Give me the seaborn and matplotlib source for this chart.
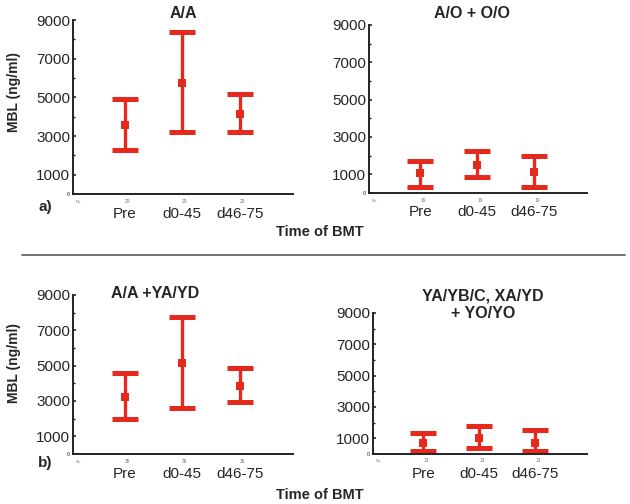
import numpy as np
import pandas as pd
import matplotlib
matplotlib.use("Agg")
import matplotlib.pyplot as plt
import seaborn as sns
from matplotlib.lines import Line2D

sns.set_style("ticks")
plt.rcParams["font.family"] = ["Liberation Sans", "DejaVu Sans"]

# Data
times = ["Pre", "d0-45", "d46-75"]

aa_mean = [3570, 5730, 4120]
aa_low = [2290, 3220, 3220]
aa_high = [4930, 8360, 5160]

ao_mean = [1050, 1500, 1110]
ao_low = [340, 840, 300]
ao_high = [1730, 2270, 2000]

aay_mean = [3210, 5170, 3870]
aay_low = [1960, 2590, 2920]
aay_high = [4570, 7770, 4880]

ya_mean = [710, 1030, 710]
ya_low = [170, 380, 170]
ya_high = [1340, 1760, 1530]

counts = ["29", "19", "35", "13"]

red = "#e5291c"

fig = plt.figure(figsize=(6.3, 5.04), dpi=100)
W, H = 630, 504


def px_axes(x0, y0, x1, y1):
    return fig.add_axes([x0 / W, 1 - y1 / H, (x1 - x0) / W, (y1 - y0) / H])


ax_a = px_axes(73, 20, 293, 194)
ax_b = px_axes(369, 25, 587, 193)
ax_c = px_axes(73, 295, 293, 454)
ax_d = px_axes(373, 313, 587, 454)

panels = [
    (ax_a, aa_mean, aa_low, aa_high, counts[0]),
    (ax_b, ao_mean, ao_low, ao_high, counts[1]),
    (ax_c, aay_mean, aay_low, aay_high, counts[2]),
    (ax_d, ya_mean, ya_low, ya_high, counts[3]),
]

for ax, mean, low, high, n in panels:
    df = pd.DataFrame({"time": times, "mean": mean, "low": low, "high": high})
    sns.scatterplot(data=df, x="time", y="mean", marker="s", s=26,
                    color=red, edgecolor=red, linewidth=0, ax=ax, zorder=3)
    xs = np.arange(len(times))
    yerr = [df["mean"] - df["low"], df["high"] - df["mean"]]
    ax.errorbar(xs, df["mean"], yerr=yerr, fmt="none", ecolor=red,
                elinewidth=2.4, capsize=9.5, capthick=3.6, zorder=2)
    ax.set_xlim(-0.9, 2.93)
    ax.set_ylim(0, 9000)
    ax.set_yticks([0, 1000, 3000, 5000, 7000, 9000])
    ax.set_yticklabels(["0", "1000", "3000", "5000", "7000", "9000"])
    ax.set_yticks([2000, 4000, 6000, 8000], minor=True)
    ax.get_yticklabels()[0].set_fontsize(4)
    for lab in ax.get_yticklabels()[1:]:
        lab.set_fontsize(11)
    ax.tick_params(axis="y", direction="in", length=2, width=1.2, pad=2)
    ax.tick_params(axis="y", which="minor", direction="in", length=1.5, width=1)
    ax.tick_params(axis="x", length=0, labelsize=11, pad=9)
    ax.set_xlabel("")
    ax.set_ylabel("")
    sns.despine(ax=ax)
    for sp in ["left", "bottom"]:
        ax.spines[sp].set_linewidth(1.4)
        ax.spines[sp].set_color("#222222")
    # tiny N labels
    ax.text(-0.85, -0.035, "N=", transform=ax.get_xaxis_transform(),
            fontsize=3, color="#777777", va="top")
    for x in xs:
        ax.text(x + 0.05, -0.03, n, transform=ax.get_xaxis_transform(),
                fontsize=3.5, color="#777777", va="top", ha="center")

# titles
fig.text(183 / W, 1 - 13 / H, "A/A", ha="center", va="center",
         fontsize=11.5, fontweight="bold")
fig.text(472 / W, 1 - 13 / H, "A/O + O/O", ha="center", va="center",
         fontsize=11.5, fontweight="bold")
fig.text(155 / W, 1 - 293 / H, "A/A +YA/YD", ha="center", va="center",
         fontsize=11.5, fontweight="bold")
fig.text(483 / W, 1 - 305 / H, "YA/YB/C, XA/YD\n+ YO/YO", ha="center",
         va="center", fontsize=11.5, fontweight="bold", linespacing=1.2)

# y labels
fig.text(14 / W, 1 - 92 / H, "MBL (ng/ml)", rotation=90, ha="center",
         va="center", fontsize=10, fontweight="bold")
fig.text(14 / W, 1 - 363 / H, "MBL (ng/ml)", rotation=90, ha="center",
         va="center", fontsize=10, fontweight="bold")

# panel letters and x labels
fig.text(45 / W, 1 - 207 / H, "a)", ha="center", va="center",
         fontsize=11, fontweight="bold")
fig.text(45 / W, 1 - 463 / H, "b)", ha="center", va="center",
         fontsize=11, fontweight="bold")
fig.text(320 / W, 1 - 232 / H, "Time of BMT", ha="center", va="center",
         fontsize=10.5, fontweight="bold")
fig.text(320 / W, 1 - 495 / H, "Time of BMT", ha="center", va="center",
         fontsize=10.5, fontweight="bold")

# separator line
fig.add_artist(Line2D([22 / W, 625 / W], [1 - 255 / H, 1 - 255 / H],
                      color="#666666", linewidth=1.3))

fig.savefig("out.png", dpi=100)
